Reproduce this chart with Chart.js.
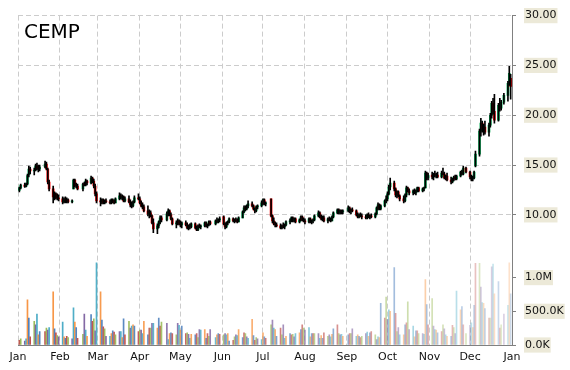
<!DOCTYPE html>
<html>
<head>
<meta charset="utf-8">
<script src="https://cdn.jsdelivr.net/npm/chart.js@4/dist/chart.umd.min.js"></script>
<style>html,body{margin:0;padding:0;background:#fff}canvas{display:block}</style>
</head>
<body>
<canvas id="c" width="570" height="370"></canvas>
<script>
const title = 'CEMP';
const monthLabels = ['Jan','Feb','Mar','Apr','May','Jun','Jul','Aug','Sep','Oct','Nov','Dec','Jan'];
const monthStarts = [0,31,59,90,120,151,181,212,243,273,304,334,365];
const tradingDays = [
  [2,3,6,7,8,9,10,13,14,15,16,17,21,22,23,24,27,28,29,30,31],
  [3,4,5,6,7,10,11,12,13,14,18,19,20,21,24,25,26,27,28],
  [3,4,5,6,7,10,11,12,13,14,17,18,19,20,21,24,25,26,27,28,31],
  [1,2,3,4,7,8,9,10,11,14,15,16,17,21,22,23,24,25,28,29,30],
  [1,2,5,6,7,8,9,12,13,14,15,16,19,20,21,22,23,27,28,29,30],
  [2,3,4,5,6,9,10,11,12,13,16,17,18,19,20,23,24,25,26,27,30],
  [1,2,3,7,8,9,10,11,14,15,16,17,18,21,22,23,24,25,28,29,30,31],
  [1,4,5,6,7,8,11,12,13,14,15,18,19,20,21,22,25,26,27,28,29],
  [2,3,4,5,8,9,10,11,12,15,16,17,18,19,22,23,24,25,26,29,30],
  [1,2,3,6,7,8,9,10,13,14,15,16,17,20,21,22,23,24,27,28,29,30,31],
  [3,4,5,6,7,10,11,12,13,14,17,18,19,20,21,24,25,26,28],
  [1,2,3,4,5,8,9,10,11,12,15,16,17,18,19,22,23,24,26,29,30,31]
];
const openPrice = [
  12.45,12.70,13.00,12.85,13.10,14.00,14.60,14.40,14.50,14.90,14.70,14.60,14.80,15.10,14.60,13.30,12.60,11.80,12.10,11.80,11.70,
  11.60,11.30,11.50,11.40,11.50,11.30,12.60,13.50,13.00,12.90,12.60,13.10,13.00,13.40,13.20,13.70,13.40,12.90,12.10,
  11.40,11.30,11.50,11.20,11.40,11.30,11.20,11.50,11.30,11.20,11.60,11.90,11.70,11.80,11.40,11.60,11.30,11.00,10.90,11.30,11.70,
  11.60,11.20,10.90,10.80,10.40,10.10,10.20,9.90,9.20,8.60,8.90,9.30,9.70,9.50,10.10,10.40,10.00,9.60,9.10,9.20,9.40,
  9.10,9.00,9.20,9.00,8.70,8.90,8.80,9.10,8.70,8.50,8.90,8.80,8.90,9.20,8.90,9.00,9.30,9.10,9.40,9.30,9.50,
  9.80,9.10,8.80,9.20,9.30,9.60,9.40,9.50,9.40,9.30,9.70,10.30,10.70,10.60,10.90,11.10,10.90,10.60,10.40,10.80,10.90,
  11.20,11.50,11.10,11.60,9.90,9.40,9.10,9.00,8.90,8.70,8.90,8.80,9.00,9.30,9.40,9.70,9.40,9.60,9.30,9.50,9.80,9.50,
  9.40,9.30,9.60,9.30,9.40,9.50,9.90,10.20,9.80,9.60,9.70,9.40,9.60,9.50,9.40,9.80,10.20,10.50,10.20,10.40,10.30,
  10.40,10.70,10.40,10.50,10.40,10.00,9.80,10.00,9.90,9.80,9.70,10.00,9.80,9.90,9.80,10.10,10.70,11.00,10.60,10.90,11.40,
  11.60,12.10,12.80,13.20,12.60,12.00,12.30,11.90,11.60,11.40,12.00,12.70,12.40,12.20,12.40,12.20,12.40,12.70,12.40,12.60,12.70,14.20,13.70,
  14.00,13.80,14.10,13.90,14.00,13.80,14.20,14.10,13.70,13.90,13.50,13.30,13.60,13.80,13.60,13.90,14.30,14.10,14.70,
  14.30,13.80,13.60,13.70,14.90,16.10,18.40,19.20,18.60,18.80,18.30,19.00,20.00,21.20,20.40,19.50,21.00,20.70,21.30,22.00,23.20,23.70
];
const highPrice = [
  12.80,13.10,13.20,13.20,14.10,14.90,14.80,14.70,15.10,15.20,15.00,15.00,15.40,15.30,14.70,13.50,12.90,12.30,12.20,12.10,12.00,
  11.80,11.70,11.80,11.70,11.60,11.50,13.60,13.60,13.20,13.10,13.20,13.30,13.60,13.50,13.90,13.80,13.60,13.10,12.30,
  11.70,11.60,11.60,11.50,11.60,11.50,11.60,11.60,11.50,11.70,12.20,12.10,12.00,11.90,11.80,11.90,11.50,11.30,11.40,11.90,12.10,
  11.80,11.40,11.20,11.00,10.90,10.50,10.40,10.00,9.60,9.10,9.40,9.90,9.90,10.30,10.60,10.50,10.20,9.70,9.40,9.60,9.50,
  9.40,9.30,9.40,9.20,9.00,9.10,9.20,9.20,8.90,9.00,9.10,9.00,9.30,9.30,9.10,9.40,9.40,9.50,9.70,9.60,9.80,
  9.90,9.20,9.30,9.40,9.70,9.70,9.60,9.70,9.60,9.80,10.40,10.90,10.90,11.00,11.40,11.30,11.00,10.70,10.90,11.00,11.40,
  11.60,11.60,11.30,11.60,10.00,9.70,9.30,9.20,9.10,9.00,9.20,9.10,9.40,9.60,9.80,9.80,9.70,9.70,9.60,9.90,9.90,9.70,
  9.60,9.70,9.70,9.50,9.60,10.00,10.40,10.30,10.00,9.90,9.90,9.70,9.80,9.70,9.90,10.30,10.60,10.60,10.50,10.50,10.50,
  10.90,10.80,10.60,10.70,10.50,10.20,10.10,10.20,10.10,10.00,10.10,10.20,10.00,10.10,10.20,10.80,11.20,11.10,11.00,11.50,11.90,
  12.30,13.00,13.70,13.40,12.70,12.40,12.40,12.00,11.90,12.10,12.90,12.80,12.60,12.50,12.60,12.50,12.80,12.80,12.70,12.80,14.40,14.30,14.20,
  14.30,14.20,14.40,14.20,14.30,14.40,14.70,14.30,14.00,14.20,13.80,13.70,13.90,14.00,14.00,14.40,14.50,14.90,14.80,
  14.40,14.00,13.90,14.40,16.40,18.60,19.70,19.40,19.10,19.40,19.20,20.20,21.40,21.70,22.10,21.20,21.70,21.50,22.20,23.40,24.90,24.10
];
const lowPrice = [
  12.30,12.60,12.75,12.80,13.00,13.80,14.10,14.00,14.40,14.50,14.30,14.40,14.70,14.50,13.10,12.40,11.20,11.50,11.60,11.50,11.40,
  11.10,11.20,11.20,11.20,11.20,11.20,12.60,12.80,12.70,12.50,12.40,12.90,12.90,13.00,13.10,13.20,12.70,11.90,11.20,
  10.90,11.10,11.10,11.10,11.20,11.10,11.10,11.20,11.10,11.20,11.50,11.60,11.50,11.30,11.30,11.20,10.80,10.70,10.80,11.20,11.50,
  11.10,10.80,10.60,10.30,9.90,9.70,9.80,9.10,8.20,8.10,8.70,9.10,9.30,9.40,9.90,9.90,9.50,9.00,8.70,9.00,9.00,
  8.80,8.70,8.90,8.60,8.50,8.60,8.70,8.60,8.40,8.40,8.70,8.60,8.80,8.80,8.70,8.90,9.00,9.00,9.20,9.20,9.30,
  9.00,8.60,8.70,9.00,9.20,9.30,9.20,9.30,9.20,9.30,9.70,10.20,10.40,10.50,10.70,10.80,10.50,10.20,10.30,10.60,10.80,
  11.00,11.00,10.90,9.80,9.20,9.00,8.80,8.80,8.60,8.60,8.70,8.60,8.90,9.10,9.30,9.30,9.30,9.20,9.20,9.40,9.40,9.30,
  9.10,9.20,9.20,9.10,9.20,9.40,9.80,9.70,9.50,9.40,9.30,9.20,9.40,9.30,9.40,9.70,10.10,10.10,10.10,10.10,10.10,
  10.30,10.20,10.10,10.30,9.90,9.70,9.70,9.80,9.60,9.60,9.60,9.70,9.60,9.70,9.70,10.00,10.50,10.50,10.50,10.80,11.20,
  11.40,12.00,12.50,12.40,11.80,11.70,11.80,11.40,11.20,11.30,11.80,12.30,12.00,12.00,12.10,12.00,12.30,12.30,12.30,12.40,12.70,13.50,13.50,
  13.60,13.50,13.80,13.70,13.70,13.70,14.00,13.60,13.50,13.40,13.10,13.20,13.40,13.50,13.50,13.80,14.00,14.00,14.20,
  13.60,13.40,13.40,13.60,14.80,15.90,17.90,18.30,18.00,18.10,17.90,18.80,19.70,20.10,19.20,19.40,20.40,20.50,21.10,21.40,23.00,21.60
];
const closePrice = [
  12.70,13.00,12.85,13.10,13.95,14.60,14.40,14.50,14.90,14.70,14.60,14.80,15.10,14.60,13.30,12.60,11.80,12.10,11.80,11.70,11.60,
  11.30,11.50,11.40,11.50,11.30,11.40,13.50,13.00,12.90,12.60,13.10,13.00,13.40,13.20,13.70,13.40,12.90,12.10,11.40,
  11.30,11.50,11.20,11.40,11.30,11.20,11.50,11.30,11.20,11.60,11.90,11.70,11.80,11.40,11.60,11.30,11.00,10.90,11.30,11.70,11.60,
  11.20,10.90,10.80,10.40,10.10,10.20,9.90,9.20,8.60,8.90,9.30,9.70,9.50,10.10,10.40,10.00,9.60,9.10,9.20,9.40,9.10,
  9.00,9.20,9.00,8.70,8.90,8.80,9.10,8.70,8.50,8.90,8.80,8.90,9.20,8.90,9.00,9.30,9.10,9.40,9.30,9.50,9.60,
  9.10,8.80,9.20,9.30,9.60,9.40,9.50,9.40,9.30,9.70,10.30,10.70,10.60,10.90,11.10,10.90,10.60,10.40,10.80,10.90,11.20,
  11.50,11.10,11.20,9.90,9.40,9.10,9.00,8.90,8.70,8.90,8.80,9.00,9.30,9.40,9.70,9.40,9.60,9.30,9.50,9.80,9.50,9.40,
  9.30,9.60,9.30,9.40,9.50,9.90,10.20,9.80,9.60,9.70,9.40,9.60,9.50,9.40,9.80,10.20,10.50,10.20,10.40,10.30,10.40,
  10.70,10.40,10.50,10.40,10.00,9.80,10.00,9.90,9.80,9.70,10.00,9.80,9.90,9.80,10.10,10.70,11.00,10.60,10.90,11.40,11.60,
  12.10,12.80,13.20,12.60,12.00,12.30,11.90,11.60,11.40,12.00,12.70,12.40,12.20,12.40,12.20,12.40,12.70,12.40,12.60,12.70,14.20,13.70,14.00,
  13.80,14.10,13.90,14.00,13.80,14.20,14.10,13.70,13.90,13.50,13.30,13.60,13.80,13.60,13.90,14.30,14.10,14.70,14.30,
  13.80,13.60,13.70,14.30,16.10,18.40,19.20,18.60,18.80,18.30,19.00,20.00,21.20,20.40,19.50,21.00,20.70,21.30,22.00,23.20,24.20,22.90
];
const volumeK = [
  70,90,60,90,670,400,120,350,300,460,150,200,200,250,220,260,790,240,180,140,120,
  340,120,100,130,110,90,550,340,260,100,160,460,220,130,450,350,390,210,1220,
  790,370,270,240,130,130,170,210,190,150,200,200,110,390,150,350,250,280,300,280,200,
  220,220,170,350,150,250,250,320,320,250,400,280,340,320,80,170,180,170,150,320,290,
  220,280,170,180,160,100,160,150,170,110,230,220,230,100,170,130,230,110,150,170,160,
  150,170,150,170,60,70,120,150,140,230,110,180,170,120,100,380,140,70,110,90,80,
  180,120,100,300,370,250,230,130,250,150,300,100,130,170,150,160,120,170,180,230,300,250,
  220,260,120,170,170,170,170,100,140,100,180,130,150,120,160,240,300,170,150,160,130,
  150,170,170,240,130,150,130,110,130,170,190,130,180,200,150,80,120,110,620,400,710,
  380,520,500,1150,470,200,260,150,150,300,330,640,230,280,120,210,210,170,170,160,970,600,300,
  690,280,230,220,180,200,300,240,150,130,130,290,260,170,800,520,570,300,170,
  290,330,260,590,1210,1210,860,630,620,540,400,400,1160,1200,760,940,250,300,460,590,1220,760
];
const priceTicks = [10, 15, 20, 25, 30];
const volumeTicksK = [0, 500, 1000];

const dayIndex = [];
tradingDays.forEach((days, m) => days.forEach(d => dayIndex.push(monthStarts[m] + d - 1)));
const n = dayIndex.length;
[openPrice, highPrice, lowPrice, closePrice, volumeK].forEach((a, k) => {
  if (a.length !== n) throw new Error('array ' + k + ' length ' + a.length + ' != ' + n);
});

const palette = [[79,129,189],[192,80,77],[155,187,89],[128,100,162],[75,172,198],[247,150,70]];
const volColors = dayIndex.map((d, i) => {
  const c = palette[(i + 1) % 6];
  const t = i / (n - 1);
  const a = 1 - 0.72 * Math.pow(t, 1.5);
  return `rgba(${c[0]},${c[1]},${c[2]},${a.toFixed(3)})`;
});
const bodyColors = dayIndex.map((d, i) => closePrice[i] >= openPrice[i] ? '#00A651' : '#FF0000');

Chart.defaults.font.family = '"DejaVu Sans", sans-serif';
Chart.defaults.font.size = 11;
Chart.defaults.color = '#111';

const titlePlugin = {
  id: 'titleText',
  afterDraw(chart) {
    const ctx = chart.ctx;
    ctx.save();
    ctx.font = '20px "DejaVu Sans", sans-serif';
    ctx.fillStyle = '#000';
    ctx.textBaseline = 'alphabetic';
    ctx.fillText(title, 24, 38);
    ctx.restore();
  }
};
const bgPlugin = {
  id: 'bg',
  beforeDraw(chart) {
    const ctx = chart.ctx;
    ctx.save(); ctx.fillStyle = '#fff'; ctx.fillRect(0, 0, chart.width, chart.height); ctx.restore();
  }
};

const axisGray = '#808080';
const gridGray = '#cccccc';

new Chart(document.getElementById('c'), {
  type: 'bar',
  data: {
    datasets: [
      {
        label: 'range', yAxisID: 'y', grouped: false, order: 0,
        data: dayIndex.map((x, i) => ({x: x, y: [lowPrice[i], highPrice[i]]})),
        backgroundColor: '#000', barThickness: 1, borderWidth: 0
      },
      {
        label: 'body', yAxisID: 'y', grouped: false, order: 1,
        data: dayIndex.map((x, i) => ({x: x, y: [openPrice[i], closePrice[i]]})),
        backgroundColor: bodyColors, barThickness: 2, minBarLength: 1, borderWidth: 0
      },
      {
        label: 'volume', yAxisID: 'yv', grouped: false, order: 2,
        data: dayIndex.map((x, i) => ({x: x, y: volumeK[i]})),
        backgroundColor: volColors, barThickness: 1, borderWidth: 0
      }
    ]
  },
  options: {
    responsive: false,
    animation: false,
    layout: {padding: {left: 18, top: 13, right: 0, bottom: 0}},
    plugins: {legend: {display: false}, tooltip: {enabled: false}},
    scales: {
      x: {
        type: 'linear', min: 0, max: 365, offset: false,
        afterBuildTicks: s => { s.ticks = monthStarts.map(v => ({value: v})); },
        afterFit: s => { s.height = 25; },
        ticks: {autoSkip: false, maxRotation: 0, padding: 6, color: '#111',
          callback: (v, i) => monthLabels[i]},
        grid: {color: gridGray, drawTicks: false, offset: false},
        border: {color: axisGray, dash: [5, 3]}
      },
      y: {
        type: 'linear', position: 'right', stack: 'panes', stackWeight: 243,
        min: 5.8, max: 30,
        afterBuildTicks: s => { s.ticks = priceTicks.map(v => ({value: v})); },
        afterFit: s => { s.width = 58; },
        ticks: {padding: 9, color: '#111', callback: v => v.toFixed(2),
          showLabelBackdrop: true, backdropColor: '#ECE9D8',
          backdropPadding: {top: 1, bottom: 1, left: 1, right: 1}},
        grid: {color: gridGray, tickColor: axisGray, tickLength: 4, tickBorderDash: []},
        border: {color: axisGray, dash: [5, 3]}
      },
      yv: {
        type: 'linear', position: 'right', stack: 'panes', stackWeight: 89,
        min: 0, max: 1310,
        afterBuildTicks: s => { s.ticks = volumeTicksK.map(v => ({value: v})); },
        afterFit: s => { s.width = 58; },
        ticks: {padding: 9, color: '#111',
          callback: v => v >= 1000 ? (v / 1000).toFixed(1) + 'M' : v.toFixed(1) + 'K',
          showLabelBackdrop: true, backdropColor: '#ECE9D8',
          backdropPadding: {top: 1, bottom: 1, left: 1, right: 1}},
        grid: {drawOnChartArea: false, tickColor: axisGray, tickLength: 4},
        border: {color: axisGray}
      }
    }
  },
  plugins: [bgPlugin, titlePlugin]
});
</script>
</body>
</html>
